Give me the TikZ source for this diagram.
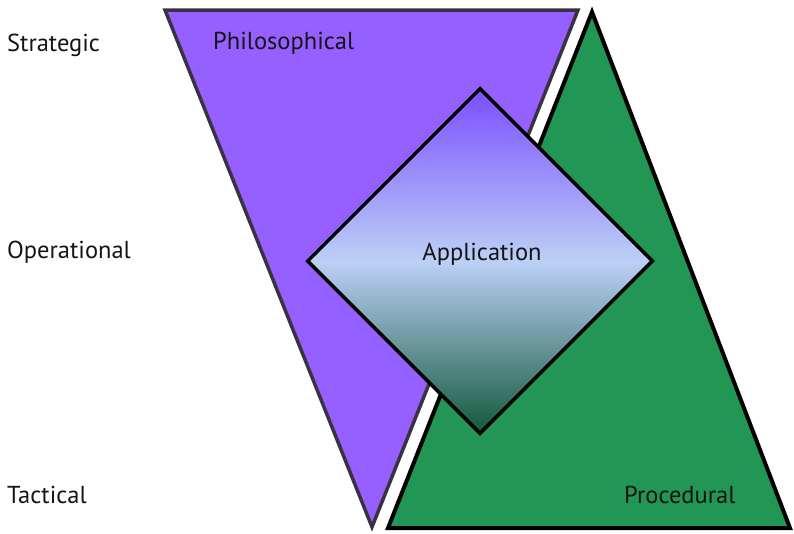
\documentclass[tikz,border=0pt]{standalone}
\usepackage{fontspec}
\setmainfont{PT Sans}
\usetikzlibrary{shapes.geometric}
\usetikzlibrary{positioning}
\definecolor{philo}{RGB}{150,95,255}
\definecolor{proc}{RGB}{34,150,85}
\definecolor{apptop}{RGB}{122,78,255}
\definecolor{appmid}{RGB}{188,208,246}
\definecolor{appbot}{RGB}{18,88,58}
\definecolor{edge}{RGB}{58,50,66}
\tikzset{
	level/.style={anchor=west, inner sep=0, font=\fontsize{24.5}{28}\selectfont, text=black!92},
	tag/.style={inner sep=0, font=\fontsize{24.5}{28}\selectfont, text=black!92}
}

\begin{document}
\begin{tikzpicture}[x=1pt, y=-1pt]
	\useasboundingbox (0,0) rectangle (794,533);
	% philosophical (upside down)
	\coordinate (PL) at (165,10);
	\coordinate (PR) at (578,10);
	\coordinate (PB) at (372,527);
	\filldraw[fill=philo, draw=edge, line width=3.5pt, line join=miter] (PL) -- (PR) -- (PB) -- cycle;
	% procedural
	\coordinate (GT) at (592,12);
	\coordinate (GL) at (388,528);
	\coordinate (GR) at (790,528);
	\filldraw[fill=proc, draw=white, line width=10pt, line join=miter] (GT) -- (GR) -- (GL) -- cycle;
	\filldraw[fill=proc, draw=black, line width=4pt, line join=miter] (GT) -- (GR) -- (GL) -- cycle;
	% application
	\node[diamond, minimum width=346, minimum height=346, inner sep=0, line width=3.5pt, draw=black,
		top color=apptop, bottom color=appbot, middle color=appmid] (APP) at (480,261) {};
	\node[tag] (APPL) at (482,254) {Application};
	\node[tag, anchor=west] (PHIL) at (213,43) {Philosophical};
	\node[tag, anchor=west] (PROC) at (624,495) {Procedural};
	% levels
	\node[level] (STR) at (7,45) {Strategic};
	\node[level] (OPE) at (7,252) {Operational};
	\node[level] (TAC) at (7,495) {Tactical};
\end{tikzpicture}
\end{document}
